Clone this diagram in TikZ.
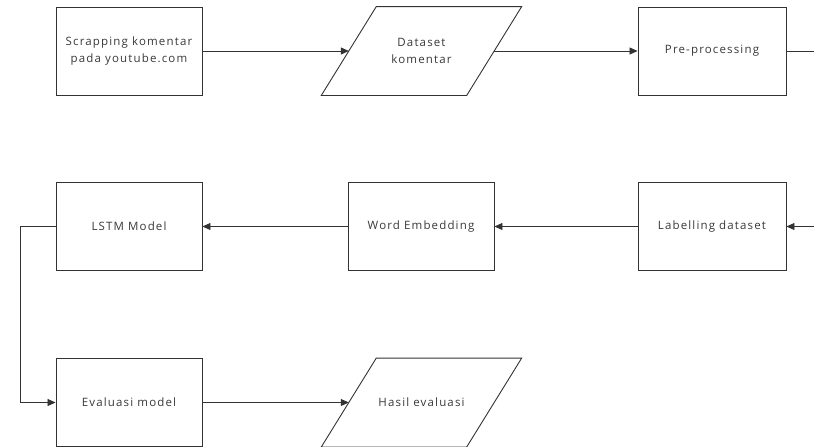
\documentclass[tikz,border=0pt]{standalone}
\usepackage{fontspec}
\setmainfont[LetterSpace=10]{Open Sans}
\usetikzlibrary{arrows.meta}
\tikzset{proc/.style = {draw = lineg, line width = 0.9pt, minimum width = 146pt,
    minimum height = 88pt, align = center, text = textg, inner sep = 0,
    font = \fontsize{11.5}{17}\selectfont}}
\tikzset{data/.style = {proc, draw = none, minimum width = 144.5pt}}
\tikzset{slant/.style = {draw = lineg, line width = 0.9pt}}
\tikzset{flow/.style = {draw = lineg, line width = 0.8pt,
    -{Triangle[length = 8pt, width = 7pt]}}}
\definecolor{lineg}{rgb}{0.2, 0.2, 0.2}
\definecolor{textg}{rgb}{0.22, 0.22, 0.22}
\newcommand{\slantbox}[1]{\draw [slant] ([xshift = 27.5pt]#1.north west)
  -- ([xshift = 27.5pt]#1.north east) -- ([xshift = -27.5pt]#1.south east)
  -- ([xshift = -27.5pt]#1.south west) -- cycle;}

\begin{document}
\begin{tikzpicture}[x = 1pt, y = -1pt]
    \useasboundingbox (0, 0) rectangle (814, 447);

    \node [proc] (scrap) at (129, 51) {Scrapping komentar\\pada youtube.com};
    \node [data] (dataset) at (421.5, 51) {Dataset\\komentar};
    \slantbox{dataset}
    \node [proc, minimum width = 148pt] (prepro) at (712, 51) {Pre-processing};

    \node [proc, minimum width = 148pt] (label) at (712, 226.5) {Labelling dataset};
    \node [proc] (embed) at (421, 226.5) {Word Embedding};
    \node [proc] (lstm) at (129, 226.5) {LSTM Model};

    \node [proc] (eval) at (129, 402.5) {Evaluasi model};
    \node [data] (hasil) at (421.5, 402.5) {Hasil evaluasi};
    \slantbox{hasil}

    \coordinate (turn) at (830, 51);
    \coordinate (back) at (20, 226.5);

    \draw [flow] (scrap) -- (dataset.west);
    \draw [flow] (dataset.east) -- (prepro);
    \draw [flow] (prepro.east) -- (turn) |- (label.east);
    \draw [flow] (label) -- (embed);
    \draw [flow] (embed) -- (lstm);
    \draw [flow] (lstm.west) -- (back) |- (eval.west);
    \draw [flow] (eval) -- (hasil.west);
  \end{tikzpicture}
\end{document}
